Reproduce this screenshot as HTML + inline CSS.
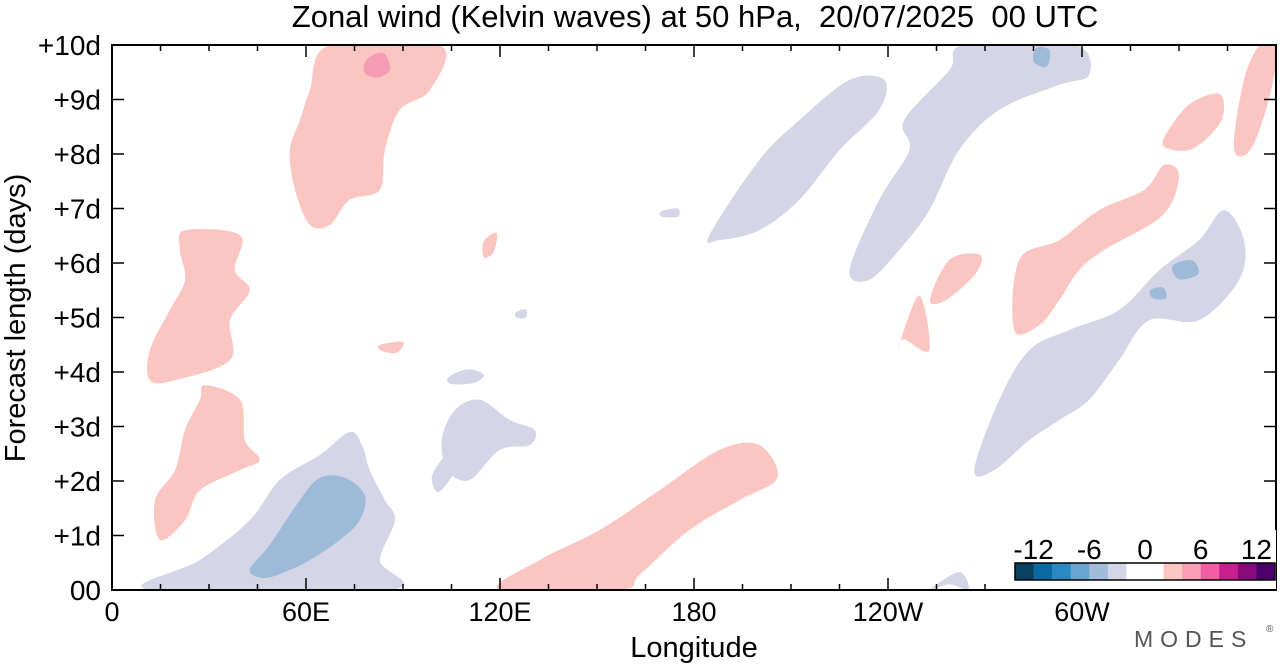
<!DOCTYPE html>
<html><head><meta charset="utf-8"><style>
body{margin:0;background:#fff;width:1280px;height:664px;overflow:hidden;font-family:"Liberation Sans",sans-serif}
svg text{font-family:"Liberation Sans",sans-serif}
</style></head><body>
<svg id="chart" width="1280" height="664" xmlns="http://www.w3.org/2000/svg">
<text x="695" y="27" font-size="31" text-anchor="middle" xml:space="preserve">Zonal wind (Kelvin waves) at 50 hPa,  20/07/2025  00 UTC</text>
<g id="blobs"></g>
<g id="axes"></g>
<g id="cbar"></g>
<text x="694" y="657" font-size="29" text-anchor="middle">Longitude</text>
<text transform="translate(25,318) rotate(-90)" font-size="29" text-anchor="middle">Forecast length (days)</text>
<text x="1134" y="647" font-size="23" fill="#555" letter-spacing="7">MODES</text>
<text x="1266" y="632" font-size="10" fill="#555">®</text>
</svg>
<script>
const xTickLabels=["0","60E","120E","180","120W","60W"];
const xTickLons=[0,60,120,180,240,300];
const yTickLabels=["00","+1d","+2d","+3d","+4d","+5d","+6d","+7d","+8d","+9d","+10d"];
const cbarColors=["#0b3f5e","#0a6aa2","#2a89c3","#6aa5d0","#a3bcdc","#d4d6e8","#ffffff","#ffffff","#fcc6c1","#f99fb7","#f15ea3","#c91e8e","#890a7b","#4c006b"];
const cbarLabels=["-12","-6","0","6","12"];
const cbarLabelPos=[1,4,7,10,13];
const LAV="#d4d6e8",BLU="#9ebad9",PNK="#fbc6c1",MPK="#f59bb5";
const blobFill=[LAV,BLU,PNK,LAV,LAV,PNK,MPK,PNK,PNK,LAV,LAV,LAV,BLU,BLU,BLU,PNK,PNK,PNK,PNK,PNK,LAV,LAV,LAV,PNK,PNK,LAV];
const blobShapes=[
[[11.7,0],[27.2,0.55],[42.6,1.28],[51.9,2.02],[64.3,2.48],[73.5,2.9],[77.3,2.66],[79.7,2.2],[84.4,1.65],[87.5,1.28],[82.8,0.55],[85.9,0]],
[[42.6,0.37],[48.8,0.83],[58.1,1.65],[64.3,2.06],[72,2.06],[78.2,1.74],[76.6,1.28],[70.5,0.92],[61.2,0.55],[55,0.37],[47.3,0.22]],
[[119.9,0],[132.3,0.55],[150.8,1.1],[169.3,1.83],[187.9,2.57],[200.2,2.66],[205.8,2.06],[194.1,1.65],[178.6,1.1],[163.2,0.28],[157,0]],
[[106,3.3],[113.7,3.49],[123,3.12],[130.7,2.94],[129.2,2.66],[119.9,2.57],[110.6,2.02],[103.8,2.2],[102,2.75]],
[[104,3.9],[110,4.05],[115,3.95],[112,3.8],[105,3.78]],
[[67.4,10],[101.4,10],[98.3,9.17],[89,8.81],[84.4,8.07],[82.8,7.34],[73.5,7.16],[67.4,6.7],[61.2,6.7],[56.6,7.34],[55,8.07],[58.1,8.62],[61.2,9.17]],
[[79,9.75],[84,9.85],[86,9.55],[82,9.4],[78,9.5]],
[[22.6,6.6],[39.6,6.51],[38,5.87],[42.6,5.5],[36.5,4.95],[36.5,4.22],[19.5,3.85],[11.7,3.85],[11.7,4.4],[17.9,5.14],[22.6,5.69],[21,6.24]],
[[28.7,3.76],[39.6,3.49],[41.1,2.75],[45.7,2.39],[39.6,2.2],[27.2,1.83],[22.6,1.28],[14.8,0.92],[13.3,1.65],[19.5,2.2],[22.6,2.94],[27.2,3.49]],
[[184.8,6.51],[200.2,7.89],[212.6,8.62],[228.1,9.36],[238.9,9.36],[237.3,8.81],[225,8.07],[212.6,7.16],[200.2,6.6],[187.9,6.42]],
[[228.1,5.87],[237.3,7.16],[246.6,8.07],[245,8.62],[259,9.54],[263.6,10],[297.6,10],[302.2,9.45],[293,9.27],[274.4,8.81],[262,8.07],[252.8,6.97],[243.5,6.24],[234.2,5.69]],
[[266.7,2.2],[274.4,3.49],[283.7,4.4],[296,4.77],[311.5,5.14],[323.9,5.87],[336.2,6.42],[343.9,6.97],[350.1,6.42],[348.6,5.69],[336.2,4.95],[320.8,4.95],[311.5,4.22],[302.2,3.49],[293,3.12],[283.7,2.75],[272.9,2.2]],
[[286,9.95],[290,9.9],[289,9.6],[285,9.7]],
[[328,5.95],[334,6.05],[336,5.8],[330,5.7]],
[[321,5.5],[325,5.55],[326,5.35],[322,5.35]],
[[279,4.77],[280.6,6.06],[293,6.42],[305.3,6.97],[319.2,7.34],[325.4,7.8],[330,7.61],[325,6.88],[306.9,6.24],[299.1,5.87],[293,5.32],[286.8,4.86]],
[[325.4,8.3],[333,8.9],[342.6,9.1],[343,8.6],[334.3,8.1],[326.5,8.1]],
[[347,8.1],[350.1,9.36],[355,10],[360,10],[358.5,9.17],[352.4,8.1]],
[[253,5.32],[259,6.06],[268.5,6.15],[267,5.8],[258,5.32]],
[[243.5,4.5],[249.7,5.4],[252.8,4.4],[245,4.6]],
[[253,0],[262,0.33],[265,0],[259,0.1]],
[[99,2.1],[104,2.5],[106,2.2],[101,1.8]],
[[125,5.1],[128,5.15],[128,5.0],[125,5.0]],
[[83,4.5],[90,4.55],[88,4.35],[83,4.4]],
[[115,6.4],[119,6.55],[118,6.2],[115,6.1]],
[[170,6.95],[175,7.0],[175,6.85],[170,6.85]]
];
const X0=112,X1=1276,Y0=590,Y1=45;
const xs=l=>X0+(X1-X0)*l/360;
const ys=d=>Y0-(Y0-Y1)*d/10;
const NS="http://www.w3.org/2000/svg";
function smoothPath(pts){
  const p=pts.map(q=>[xs(q[0]),ys(q[1])]);const n=p.length;
  let d=`M${p[0][0]},${p[0][1]}`;
  for(let i=0;i<n;i++){
    const a=p[(i-1+n)%n],b=p[i],c=p[(i+1)%n],e=p[(i+2)%n];
    d+=`C${b[0]+(c[0]-a[0])/6},${b[1]+(c[1]-a[1])/6} ${c[0]-(e[0]-b[0])/6},${c[1]-(e[1]-b[1])/6} ${c[0]},${c[1]}`;
  }
  return d+"Z";
}
const bg=document.getElementById("blobs");
const clip=document.createElementNS(NS,"clipPath");clip.setAttribute("id","pc");
const cr=document.createElementNS(NS,"rect");cr.setAttribute("x",X0);cr.setAttribute("y",Y1);cr.setAttribute("width",X1-X0);cr.setAttribute("height",Y0-Y1);
clip.appendChild(cr);document.getElementById("chart").appendChild(clip);
bg.setAttribute("clip-path","url(#pc)");
blobShapes.forEach((s,i)=>{
  const el=document.createElementNS(NS,"path");
  el.setAttribute("d",smoothPath(s));el.setAttribute("fill",blobFill[i]);
  
  
  bg.appendChild(el);
});
const ax=document.getElementById("axes");
function add(g,tag,attrs,txt){const e=document.createElementNS(NS,tag);for(const k in attrs)e.setAttribute(k,attrs[k]);if(txt!==undefined)e.textContent=txt;g.appendChild(e);return e;}
const frame=add(ax,"rect",{x:X0,y:Y1,width:X1-X0,height:Y0-Y1,fill:"none",stroke:"#000","stroke-width":2});


for(let l=0;l<=360;l+=15){
  const big=l%60===0;
  add(ax,"line",{x1:xs(l),x2:xs(l),y1:Y0,y2:Y0-(big?12:6),stroke:"#000","stroke-width":1.5});
  add(ax,"line",{x1:xs(l),x2:xs(l),y1:Y1,y2:Y1+(big?12:6),stroke:"#000","stroke-width":1.5});
}
xTickLabels.forEach((t,i)=>{
  const e=add(ax,"text",{x:xs(xTickLons[i]),y:621,"font-size":27,"text-anchor":"middle"},t);
  
  
});
yTickLabels.forEach((t,i)=>{
  add(ax,"line",{x1:X0,x2:X0+12,y1:ys(i),y2:ys(i),stroke:"#000","stroke-width":1.5});
  add(ax,"line",{x1:X1,x2:X1-12,y1:ys(i),y2:ys(i),stroke:"#000","stroke-width":1.5});
  const e=add(ax,"text",{x:101,y:ys(i)+10,"font-size":28,"text-anchor":"end"},t);
  
  
});
const cb=document.getElementById("cbar");
const CX=1015,CW=260,cw=CW/cbarColors.length;
add(cb,"rect",{x:1008,y:530,width:268,height:59,fill:"#fff"});
cbarColors.forEach((c,i)=>{
  const e=add(cb,"rect",{x:CX+i*cw,y:563,width:cw+0.3,height:17,fill:c});
  
  
});
add(cb,"rect",{x:CX,y:563,width:CW,height:17,fill:"none",stroke:"#000","stroke-width":1.5});
cbarLabels.forEach((t,i)=>{
  const e=add(cb,"text",{x:CX+cbarLabelPos[i]*cw,y:559,"font-size":28,"text-anchor":"middle"},t);
  
  
});
</script>
</body></html>
